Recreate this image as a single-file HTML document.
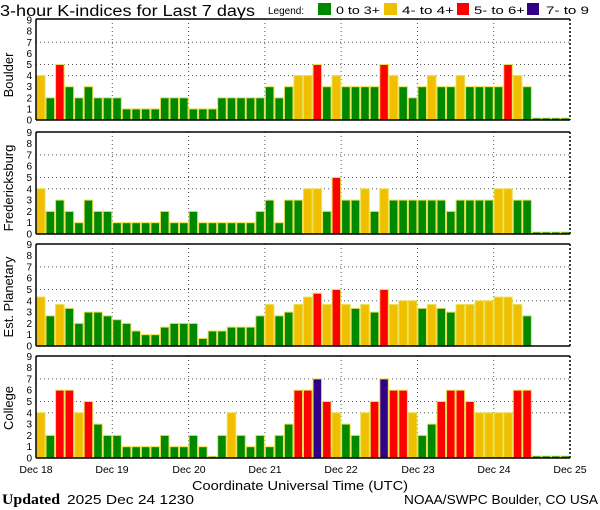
<!DOCTYPE html>
<html><head><meta charset="utf-8"><style>
html,body{margin:0;padding:0;background:#fff;}
svg{display:block;font-family:"Liberation Sans",sans-serif;}
</style></head><body>
<svg id="s" width="600" height="510" viewBox="0 0 600 510" xmlns="http://www.w3.org/2000/svg">
<rect width="600" height="510" fill="#fff"/>
<text x="0" y="16" font-size="15.5" textLength="255" lengthAdjust="spacingAndGlyphs">3-hour K-indices for Last 7 days</text>
<text x="268" y="14" font-size="10">Legend:</text>
<rect x="318" y="3" width="13" height="12" fill="#008800"/>
<text x="336" y="14" font-size="11" textLength="44" lengthAdjust="spacingAndGlyphs">0 to 3+</text>
<rect x="384" y="3" width="13" height="12" fill="#f0c000"/>
<text x="402" y="14" font-size="11" textLength="52" lengthAdjust="spacingAndGlyphs">4- to 4+</text>
<rect x="457" y="3" width="12" height="12" fill="#ff0000"/>
<text x="474" y="14" font-size="11" textLength="51" lengthAdjust="spacingAndGlyphs">5- to 6+</text>
<rect x="527" y="3" width="12" height="12" fill="#330088"/>
<text x="546" y="14" font-size="11" textLength="43" lengthAdjust="spacingAndGlyphs">7- to 9</text>
<g id="bars"></g>
<text x="13" y="75" font-size="13" text-anchor="middle" transform="rotate(-90 13 75)">Boulder</text>
<text x="13" y="188" font-size="13" text-anchor="middle" transform="rotate(-90 13 188)">Fredericksburg</text>
<text x="13" y="297" font-size="13" text-anchor="middle" transform="rotate(-90 13 297)">Est. Planetary</text>
<text x="13" y="408" font-size="13" text-anchor="middle" transform="rotate(-90 13 408)">College</text>
<g font-size="10.5" text-anchor="middle">
<text x="36" y="473">Dec 18</text>
<text x="112" y="473">Dec 19</text>
<text x="189" y="473">Dec 20</text>
<text x="265" y="473">Dec 21</text>
<text x="341" y="473">Dec 22</text>
<text x="418" y="473">Dec 23</text>
<text x="494" y="473">Dec 24</text>
<text x="570" y="473">Dec 25</text>
</g>
<text x="300" y="490" font-size="13" text-anchor="middle" textLength="216" lengthAdjust="spacingAndGlyphs">Coordinate Universal Time (UTC)</text>
<text x="2" y="504" font-size="15" font-family="Liberation Serif,serif" font-weight="bold" textLength="58" lengthAdjust="spacingAndGlyphs">Updated</text>
<text x="67" y="504" font-size="13" textLength="127" lengthAdjust="spacingAndGlyphs">2025 Dec 24 1230</text>
<text x="598" y="504" font-size="13" text-anchor="end" textLength="194" lengthAdjust="spacingAndGlyphs">NOAA/SWPC Boulder, CO USA</text>
<g id="ticks" font-size="10" text-anchor="end">
</g>
</svg>
<script>
var NS="http://www.w3.org/2000/svg";
var data=[
[4,2,5,3,2,3,2,2,2,1,1,1,1,2,2,2,1,1,1,2,2,2,2,2,3,2,3,4,4,5,3,4,3,3,3,3,5,4,3,2,3,4,3,3,4,3,3,3,3,5,4,3],
[4,2,3,2,1,3,2,2,1,1,1,1,1,2,1,1,2,1,1,1,1,1,1,2,3,1,3,3,4,4,2,5,3,3,4,2,4,3,3,3,3,3,3,2,3,3,3,3,4,4,3,3],
[4.33,2.67,3.67,3.33,2,3,3,2.67,2.33,2,1.33,1,1,1.67,2,2,2,0.67,1.33,1.33,1.67,1.67,1.67,2.67,3.67,2.67,3,3.67,4.33,4.67,3.67,5,3.67,3.33,3.67,3,5,3.67,4,4,3.33,3.67,3.33,3,3.67,3.67,4,4,4.33,4.33,3.67,2.67],
[4,2,6,6,4,5,3,2,2,1,1,1,1,2,1,1,2,1,0.15,2,4,2,1,2,1,2,3,6,6,7,5,4,3,2,4,5,7,6,6,4,2,3,5,6,6,5,4,4,4,4,6,6]
];
var panels=[[19,120,11.1],[132,234,11.3],[244,346,11.3],[356,458,11.3]];
var g=document.getElementById("bars"),tg=document.getElementById("ticks");
function el(n,a,p){var e=document.createElementNS(NS,n);for(var k in a)e.setAttribute(k,a[k]);(p||g).appendChild(e);return e;}
var L=36,R=570,bw=(R-L)/56;
panels.forEach(function(p,pi){
 var t=p[0],b=p[1],u=p[2];
 [4,5,7].forEach(function(v){var y=b-v*u;el("line",{x1:L,x2:R,y1:y,y2:y,stroke:"#555","stroke-width":1,"stroke-dasharray":"1,3"});});
 for(var d=1;d<7;d++){var x=L+d*(R-L)/7;el("line",{x1:x,x2:x,y1:t,y2:b,stroke:"#555","stroke-width":1,"stroke-dasharray":"1,3"});}
 data[pi].forEach(function(v,i){
  var c=v>=6.67?"#330088":v>=4.67?"#ff0000":v>=3.67?"#f0c000":"#008800";
  var h=v*u;if(h<1.5)h=1.5;
  el("rect",{x:L+i*bw+0.5,y:b-h,width:bw-1,height:h,fill:c,stroke:"#e8e050","stroke-width":1});
 });
 if(pi!=2){for(var i=52;i<56;i++)el("rect",{x:L+i*bw+0.5,y:b-2,width:bw-1,height:2,fill:"#008800",stroke:"#e8e050","stroke-width":0.8});}
 el("line",{x1:L,x2:R,y1:t,y2:t,stroke:"#000","stroke-width":1.5});
 el("line",{x1:L,x2:R,y1:b,y2:b,stroke:"#000","stroke-width":1.5});
 el("line",{x1:L,x2:L,y1:t,y2:b,stroke:"#000","stroke-width":1.5});
 el("line",{x1:R,x2:R,y1:t,y2:b,stroke:"#000","stroke-width":1.5,"stroke-dasharray":"2,2"});
 for(var v=0;v<=9;v++){var tx=el("text",{x:32,y:b-v*u+3.5},tg);tx.textContent=v;}
});
</script>
</body></html>
